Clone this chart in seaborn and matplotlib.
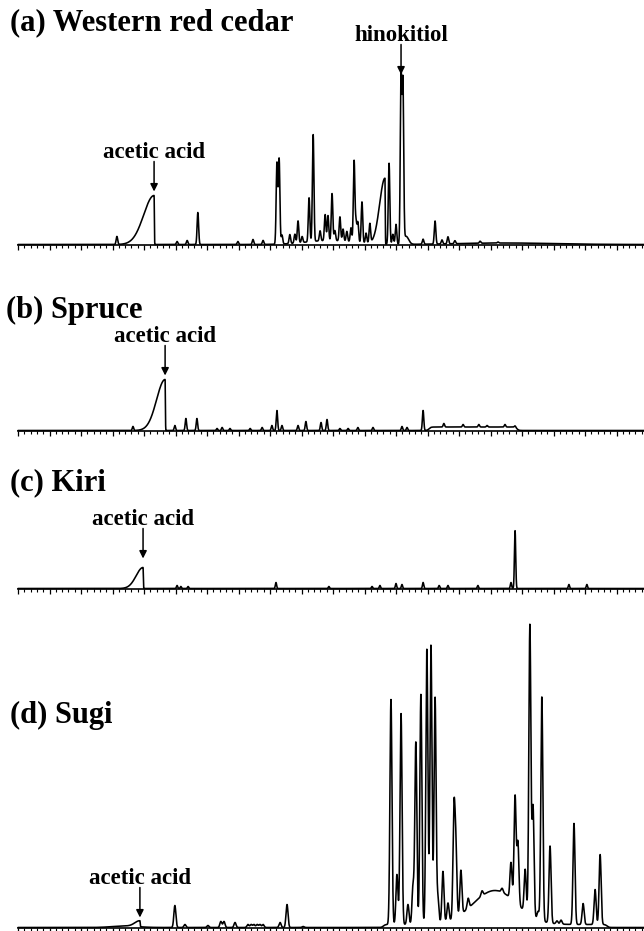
import numpy as np
import pandas as pd
import matplotlib
matplotlib.use("Agg")
import matplotlib.pyplot as plt
from matplotlib.ticker import MultipleLocator
import seaborn as sns

# ---------------- data (retention time in min, intensity in arbitrary units) ----------------
A_TITLE = "(a) Western red cedar"
A_RT = [3.14, 5.05, 5.37, 5.71, 6.98, 7.46, 7.78, 8.22, 8.29, 8.38, 8.63, 8.79, 8.89, 9.02,
        9.24, 9.37, 9.59, 9.75, 9.84, 9.97, 10.06, 10.22, 10.32, 10.44, 10.57, 10.67, 10.73,
        10.79, 10.92, 11.05, 11.17, 11.78, 11.90, 12.00, 12.16, 12.22, 12.86, 13.24, 13.46,
        13.65, 13.87, 14.67, 15.24]
A_H = [8, 3, 4, 32, 3, 5, 4, 81, 85, 9, 9, 9, 22, 6, 44, 107, 10, 26, 25, 47, 10, 24, 12, 10,
       14, 81, 20, 20, 41, 10, 19, 81, 10, 20, 166, 157, 5, 23, 4, 7, 3, 2, 1]
A_FRONT_RT = [4.32, 11.65]          # fronting (tailing-left) peaks
A_FRONT_H = [49, 66]
A_FRONT_W = [0.33, 0.17]
A_HUMP_RT = [9.9, 12.32, 15.5]
A_HUMP_H = [4, 8, 1.5]
A_HUMP_W = [0.75, 0.08, 1.5]
A_LABELS = ["acetic acid", "hinokitiol"]
A_LABEL_RT = [4.32, 12.16]
A_LABEL_H = [49, 166]

B_TITLE = "(b) Spruce"
B_RT = [3.65, 4.98, 5.33, 5.68, 6.32, 6.48, 6.73, 7.37, 7.75, 8.06, 8.22, 8.38, 8.89, 9.14,
        9.62, 9.81, 10.22, 10.48, 10.79, 11.27, 12.19, 12.35, 12.86, 13.52, 14.13, 14.63,
        14.89, 15.46, 15.78]
B_H = [4, 5, 12, 12, 2, 3, 2, 2, 3, 5, 20, 5, 5, 9, 8, 11, 2, 2, 3, 3, 4, 3, 20, 3.5, 2.5,
       2.5, 1.5, 2.5, 1.5]
B_FRONT_RT = [4.67]
B_FRONT_H = [51]
B_FRONT_W = [0.27]
B_PLATEAU = [(13.05, 15.84, 3.5)]
B_LABELS = ["acetic acid"]
B_LABEL_RT = [4.67]
B_LABEL_H = [51]

C_TITLE = "(c) Kiri"
C_RT = [5.05, 5.17, 5.40, 8.19, 9.87, 11.24, 11.49, 12.00, 12.19, 12.86, 13.37, 13.65,
        14.60, 15.65, 15.78, 17.49, 18.06]
C_H = [3, 2, 2, 6, 2, 2, 3, 5, 4, 6, 3, 3, 3, 6, 58, 4, 4]
C_FRONT_RT = [3.97]
C_FRONT_H = [21]
C_FRONT_W = [0.22]
C_LABELS = ["acetic acid"]
C_LABEL_RT = [3.97]
C_LABEL_H = [21]

D_TITLE = "(d) Sugi"
D_RT = [4.98, 5.30, 6.03, 6.44, 6.54, 6.89, 7.30, 7.40, 7.49, 7.59, 7.68, 7.78, 8.32, 8.54,
        9.05, 11.84, 12.03, 12.16, 12.38, 12.54, 12.63, 12.79, 12.98, 13.11, 13.24, 13.33,
        13.49, 13.65, 13.84, 13.90, 14.06, 14.29, 14.73, 15.37, 15.65, 15.78, 15.87, 16.10,
        16.25, 16.35, 16.51, 16.63, 16.89, 17.11, 17.24, 17.65, 17.94, 18.32, 18.48]
D_H = [22, 3, 2, 6, 6, 5, 3, 3, 3, 3, 3, 3, 5, 23, 1, 225, 50, 211, 20, 38, 182, 230, 275,
       279, 226, 25, 51, 18, 106, 68, 44, 10, 5, 4, 36, 106, 62, 42, 290, 110, 8, 224, 77,
       3, 4, 101, 21, 35, 70]
D_FRONT_RT = [3.87]
D_FRONT_H = [6]
D_FRONT_W = [0.16]
D_HUMP_RT = [15.14, 3.40]
D_HUMP_H = [34, 1.5]
D_HUMP_W = [0.70, 0.4]
D_PLATEAU = [(11.6, 18.7, 3)]
D_LABELS = ["acetic acid"]
D_LABEL_RT = [3.87]
D_LABEL_H = [6]

for a, b in [(A_RT, A_H), (B_RT, B_H), (C_RT, C_H), (D_RT, D_H)]:
    assert len(a) == len(b)

# ---------------- trace construction from peak tables ----------------
T_MAX = 19.873
t = np.linspace(0, T_MAX, 6000)


def build_trace(rt, h, sig, front=((), (), ()), humps=((), (), ()), plateaus=()):
    y = np.zeros_like(t)
    for p, hh in zip(rt, h):
        y += hh * np.exp(-0.5 * ((t - p) / sig) ** 2)
    for p, hh, w in zip(*front):
        left = hh * np.exp(-0.5 * ((t - p) / w) ** 2)
        right = hh * np.exp(-0.5 * ((t - p) / 0.008) ** 2)
        y += np.where(t <= p, left, right)
    for p, hh, w in zip(*humps):
        y += hh * np.exp(-0.5 * ((t - p) / w) ** 2)
    for s, e, lvl in plateaus:
        y += lvl / (1 + np.exp(-(t - s) / 0.03)) / (1 + np.exp((t - e) / 0.03))
    return y


panels = [
    dict(title=A_TITLE, y=build_trace(A_RT, A_H, 0.024, (A_FRONT_RT, A_FRONT_H, A_FRONT_W),
                                      (A_HUMP_RT, A_HUMP_H, A_HUMP_W)),
         labels=A_LABELS, lrt=A_LABEL_RT, lh=A_LABEL_H, gap=[4, 4],
         base=245, top=0, tx=10, ty=23),
    dict(title=B_TITLE, y=build_trace(B_RT, B_H, 0.022, (B_FRONT_RT, B_FRONT_H, B_FRONT_W),
                                      plateaus=B_PLATEAU),
         labels=B_LABELS, lrt=B_LABEL_RT, lh=B_LABEL_H, gap=[4],
         base=431, top=260, tx=6, ty=310),
    dict(title=C_TITLE, y=build_trace(C_RT, C_H, 0.02, (C_FRONT_RT, C_FRONT_H, C_FRONT_W)),
         labels=C_LABELS, lrt=C_LABEL_RT, lh=C_LABEL_H, gap=[9],
         base=589, top=460, tx=10, ty=483),
    dict(title=D_TITLE, y=build_trace(D_RT, D_H, 0.032, (D_FRONT_RT, D_FRONT_H, D_FRONT_W),
                                      (D_HUMP_RT, D_HUMP_H, D_HUMP_W), D_PLATEAU),
         labels=D_LABELS, lrt=D_LABEL_RT, lh=D_LABEL_H, gap=[4],
         base=928, top=610, tx=10, ty=715),
]

# ---------------- drawing ----------------
sns.set_theme(style="white")
plt.rcParams["font.family"] = ["Liberation Serif", "DejaVu Serif"]

W, H = 644, 931
X0 = 18
fig = plt.figure(figsize=(W / 100, H / 100), dpi=100)

for p in panels:
    hpx = p["base"] - p["top"]
    ax = fig.add_axes([X0 / W, (H - p["base"]) / H, (W - X0) / W, hpx / H])
    df = pd.DataFrame({"rt": t, "signal": p["y"]})
    sns.lineplot(data=df, x="rt", y="signal", ax=ax, color="black", linewidth=1.15,
                 estimator=None, sort=False, legend=False)
    for ln in ax.lines:
        ln.set_clip_on(False)
    ax.set_xlim(0, T_MAX)
    ax.set_ylim(-0.5, hpx - 0.5)
    for s in ["left", "top", "right"]:
        ax.spines[s].set_visible(False)
    ax.spines["bottom"].set_linewidth(1.2)
    ax.spines["bottom"].set_color("black")
    ax.xaxis.set_major_locator(MultipleLocator(1))
    ax.xaxis.set_minor_locator(MultipleLocator(0.2))
    ax.tick_params(axis="x", which="major", bottom=True, direction="out", length=3.6,
                   width=0.9, color="black", labelbottom=False)
    ax.tick_params(axis="x", which="minor", bottom=True, direction="out", length=2.2,
                   width=0.8, color="black")
    ax.set_yticks([])
    ax.set_xlabel("")
    ax.set_ylabel("")
    ax.patch.set_alpha(0)

    for lab, rt, hh, g in zip(p["labels"], p["lrt"], p["lh"], p["gap"]):
        tip = hh + g
        tail = tip + 30
        ax.annotate("", xy=(rt, tip), xytext=(rt, tail),
                    arrowprops=dict(arrowstyle="-|>", color="black", lw=1.1,
                                    mutation_scale=11, shrinkA=0, shrinkB=0))
        ax.text(rt, tail + 9, lab, ha="center", va="center", fontsize=16.5,
                fontweight="bold", color="black")

    fig.text(p["tx"] / W, 1 - p["ty"] / H, p["title"], ha="left", va="center",
             fontsize=22, fontweight="bold", color="black")

fig.savefig("out.png", dpi=100, facecolor="white")
